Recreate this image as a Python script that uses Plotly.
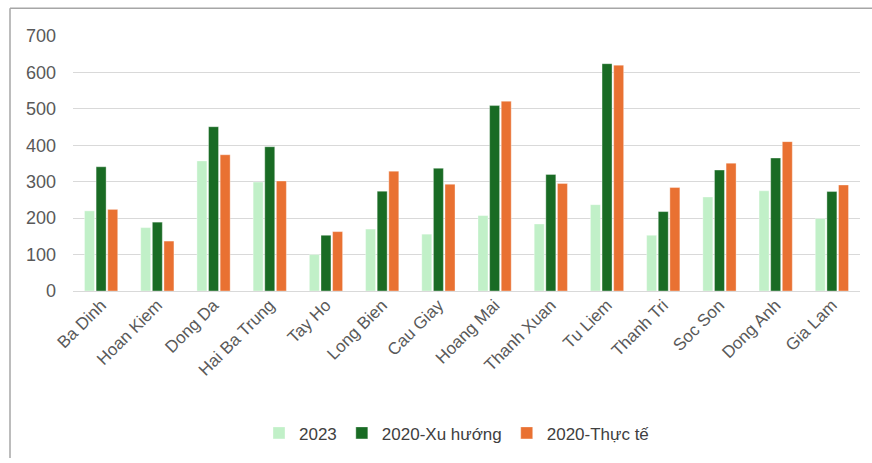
import plotly.graph_objects as go

districts = ["Ba Dinh", "Hoan Kiem", "Dong Da", "Hai Ba Trung", "Tay Ho", "Long Bien",
             "Cau Giay", "Hoang Mai", "Thanh Xuan", "Tu Liem", "Thanh Tri", "Soc Son",
             "Dong Anh", "Gia Lam"]
v2023 = [220, 174, 357, 299, 100, 170, 156, 207, 184, 237, 153, 258, 275, 199]
v2020_trend = [341, 189, 451, 396, 153, 274, 337, 509, 320, 624, 218, 332, 365, 273]
v2020_actual = [224, 137, 374, 302, 163, 329, 293, 521, 295, 620, 284, 351, 410, 291]
y_ticks = [0, 100, 200, 300, 400, 500, 600, 700]

W, H = 872, 463
ml, mr, mt, mb = 73, 12, 36, 169
plot_w = W - ml - mr
plot_h = H - mt - mb

fig = go.Figure()
for name, vals, col in [("2023", v2023, "#C1F0C8"),
                        ("2020-Xu hướng", v2020_trend, "#196B24"),
                        ("2020-Thực tế", v2020_actual, "#E97132")]:
    fig.add_trace(go.Bar(x=districts, y=vals, name=name,
                         marker=dict(color=col, line=dict(color="rgba(255,255,255,0.6)", width=0.6))))

fig.update_layout(
    width=W, height=H,
    margin=dict(l=ml, r=mr, t=mt, b=mb, pad=0),
    paper_bgcolor="white", plot_bgcolor="white",
    barmode="group", bargap=0.38, bargroupgap=0.14,
    font=dict(family="Liberation Sans, Arial, sans-serif", color="#595959", size=17),
    xaxis=dict(tickangle=-45, tickfont=dict(size=17, color="#595959"), showgrid=False,
               showline=False, ticks="", automargin=False),
    yaxis=dict(range=[0, 700], tickvals=y_ticks, tickfont=dict(size=18, color="#595959"),
               showgrid=True, gridcolor="#D9D9D9", gridwidth=1.3, zeroline=True,
               zerolinecolor="#D9D9D9", zerolinewidth=1.3, showline=False, ticks="",
               ticklabelstandoff=16, automargin=False),
    legend=dict(orientation="h", x=(457 - ml) / plot_w, xanchor="center",
                y=-(438 - (H - mb)) / plot_h, yanchor="middle",
                font=dict(size=17, color="#404040"), traceorder="normal"),
    showlegend=True,
)

fig.add_shape(type="line", xref="paper", yref="paper",
              x0=(10 - ml) / plot_w, x1=1 + mr / plot_w,
              y0=1 + (mt - 8) / plot_h, y1=1 + (mt - 8) / plot_h,
              line=dict(color="#A6A6A6", width=1.5))
fig.add_shape(type="line", xref="paper", yref="paper",
              x0=(10 - ml) / plot_w, x1=(10 - ml) / plot_w,
              y0=1 + (mt - 8) / plot_h, y1=-mb / plot_h,
              line=dict(color="#A6A6A6", width=1.5))

fig.write_html("out.html")
